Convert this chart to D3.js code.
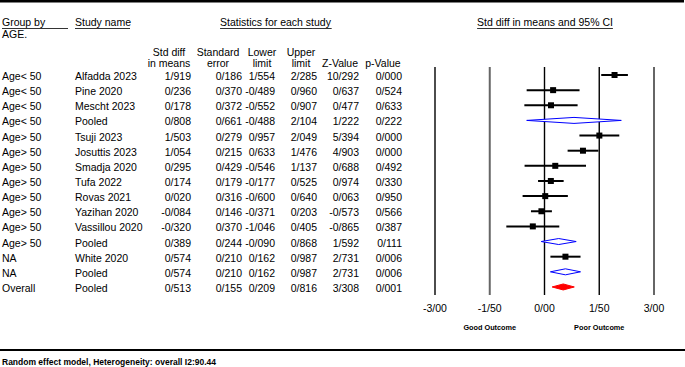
<!DOCTYPE html>
<html><head><meta charset="utf-8">
<script src="https://cdn.jsdelivr.net/npm/d3@7"></script>
<style>body{margin:0;background:#fff}svg{display:block;font-family:"Liberation Sans",Arial,sans-serif}</style>
</head><body><svg id="c" width="685" height="367"></svg>
<script>
const groups = ["Age< 50","Age< 50","Age< 50","Age< 50","Age> 50","Age> 50","Age> 50","Age> 50","Age> 50","Age> 50","Age> 50","Age> 50","NA","NA","Overall"];
const studies = ["Alfadda 2023","Pine 2020","Mescht 2023","Pooled","Tsuji 2023","Josuttis 2023","Smadja 2020","Tufa 2022","Rovas 2021","Yazihan 2020","Vassillou 2020","Pooled","White 2020","Pooled","Pooled"];
const kinds = ["study","study","study","pooled","study","study","study","study","study","study","study","pooled","study","pooled","overall"];
const smd = [1.919,0.236,0.178,0.808,1.503,1.054,0.295,0.174,0.020,-0.084,-0.320,0.389,0.574,0.574,0.513];
const se = [0.186,0.370,0.372,0.661,0.279,0.215,0.429,0.179,0.316,0.146,0.370,0.244,0.210,0.210,0.155];
const lower = [1.554,-0.489,-0.552,-0.488,0.957,0.633,-0.546,-0.177,-0.600,-0.371,-1.046,-0.090,0.162,0.162,0.209];
const upper = [2.285,0.960,0.907,2.104,2.049,1.476,1.137,0.525,0.640,0.203,0.405,0.868,0.987,0.987,0.816];
const zval = [10.292,0.637,0.477,1.222,5.394,4.903,0.688,0.974,0.063,-0.573,-0.865,1.592,2.731,2.731,3.308];
const pval = [0.000,0.524,0.633,0.222,0.000,0.000,0.492,0.330,0.950,0.566,0.387,0.111,0.006,0.006,0.001];
const ticks = [-3,-1.5,0,1.5,3];
const tickLabels = ["-3/00","-1/50","0/00","1/50","3/00"];

const svg = d3.select("#c");
const fs = 10.5;
const f3 = v => d3.format(".3f")(v).replace("\u2212","-").replace(".","/");

// frame lines
svg.append("line").attr("x1",0).attr("x2",684).attr("y1",1.2).attr("y2",1.2).attr("stroke","#000").attr("stroke-width",2.5);
svg.append("line").attr("x1",0).attr("x2",685).attr("y1",350).attr("y2",350).attr("stroke","#000").attr("stroke-width",2.2);

function txt(x,y,s,anchor,size,weight){
  return svg.append("text").attr("x",x).attr("y",y).attr("text-anchor",anchor||"start")
    .attr("font-size",size||fs).attr("font-weight",weight||"normal").attr("fill","#000").text(s);
}
function uline(x1,x2,y){
  svg.append("line").attr("x1",x1).attr("x2",x2).attr("y1",y).attr("y2",y).attr("stroke","#000").attr("stroke-width",0.8);
}

// headers
txt(2,26,"Group by"); uline(2,68,28.5);
txt(2,38,"AGE.");
txt(75,26,"Study name"); uline(75,130,28.5);
const t1 = txt(275.5,26,"Statistics for each study","middle");
let bb = t1.node().getBBox(); uline(bb.x,bb.x+bb.width,28.5);
const t2 = txt(545,26,"Std diff in means and 95% CI","middle");
bb = t2.node().getBBox(); uline(bb.x,bb.x+bb.width,28.5);

const cols = [
  {x:191, h:["Std diff","in means"], hx:169, v:smd},
  {x:242, h:["Standard","error"], hx:218, v:se},
  {x:275, h:["Lower","limit"], hx:262, v:lower},
  {x:317, h:["Upper","limit"], hx:301, v:upper},
  {x:359, h:["","Z-Value"], hx:340, v:zval},
  {x:402, h:["","p-Value"], hx:383, v:pval}
];
cols.forEach(c=>{
  if(c.h[0]) txt(c.hx,56,c.h[0],"middle");
  txt(c.hx,67,c.h[1],"middle");
});

const rowY = i => 80 + 15.14*i;
groups.forEach((g,i)=>{
  txt(2,rowY(i),g);
  txt(75,rowY(i),studies[i]);
  cols.forEach(c=>txt(c.x,rowY(i),f3(c.v[i]),"end"));
});

// forest
const x = d3.scaleLinear().domain([-3,3]).range([435,654]);
const gridCol = ["#000","#666","#000","#000","#666"];
const gridW = [1.4,2,1.4,1.4,2];
ticks.forEach((t,k)=>{
  svg.append("line").attr("x1",x(t)).attr("x2",x(t)).attr("y1",67).attr("y2",295)
    .attr("stroke",gridCol[k]).attr("stroke-width",gridW[k]);
  txt(x(t),312,tickLabels[k],"middle");
});
txt(x(-1.5),330,"Good Outcome","middle",7.3,"bold");
txt(x(1.5),330,"Poor Outcome","middle",7.3,"bold");

groups.forEach((g,i)=>{
  const cy = rowY(i)-5;
  if(kinds[i]==="study"){
    svg.append("line").attr("x1",x(lower[i])).attr("x2",x(upper[i])).attr("y1",cy).attr("y2",cy)
      .attr("stroke","#000").attr("stroke-width",2);
    svg.append("rect").attr("x",x(smd[i])-3).attr("y",cy-3).attr("width",6).attr("height",6).attr("fill","#000");
  } else {
    const h = 3;
    const pts = [[x(lower[i]),cy],[x(smd[i]),cy-h],[x(upper[i]),cy],[x(smd[i]),cy+h]];
    const ov = kinds[i]==="overall";
    svg.append("polygon").attr("points",pts.map(p=>p.join(",")).join(" "))
      .attr("fill",ov?"#ff0000":"#fff").attr("stroke",ov?"#ff0000":"#0000ff").attr("stroke-width",1);
  }
});

txt(2,365,"Random effect model, Heterogeneity: overall I2:90.44","start",8.5,"bold");
</script></body></html>
